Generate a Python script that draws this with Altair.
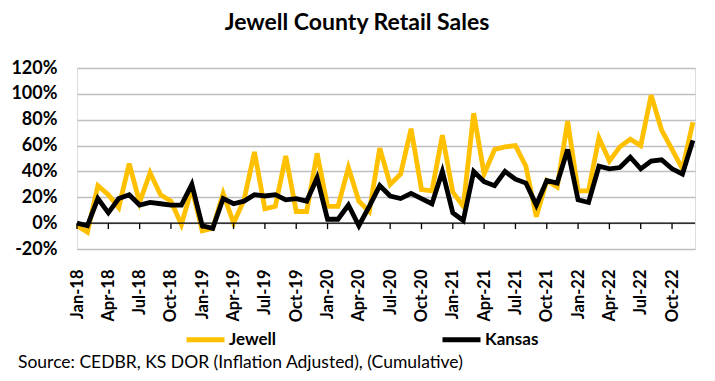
import json
import altair as alt
import pandas as pd

months = [f"{m}-{y}" for y in ["18", "19", "20", "21", "22"]
          for m in ["Jan", "Feb", "Mar", "Apr", "May", "Jun", "Jul", "Aug", "Sep", "Oct", "Nov", "Dec"]]

jewell = [-2, -7, 29, 22, 12, 46, 16, 39, 22, 17, -1, 27,
          -6, -4, 23, 0, 18, 55, 11, 13, 52, 9, 9, 54,
          13, 13, 43, 17, 9, 58, 30, 38, 73, 26, 25, 68,
          24, 13, 85, 38, 57, 59, 60, 44, 5, 33, 28, 79,
          25, 25, 66, 48, 59, 65, 60, 99, 72, 57, 42, 78]
kansas = [0, -2, 19, 8, 19, 22, 14, 16, 15, 14, 14, 30,
          -2, -4, 19, 15, 17, 22, 21, 22, 18, 19, 17, 35,
          3, 3, 14, -2, 13, 29, 21, 19, 23, 19, 15, 40,
          8, 2, 40, 32, 29, 40, 34, 31, 14, 33, 31, 57,
          18, 16, 44, 42, 43, 51, 42, 48, 49, 42, 38, 64]

tick_labels = ["Jan-18", "Apr-18", "Jul-18", "Oct-18", "Jan-19", "Apr-19", "Jul-19", "Oct-19",
               "Jan-20", "Apr-20", "Jul-20", "Oct-20", "Jan-21", "Apr-21", "Jul-21", "Oct-21",
               "Jan-22", "Apr-22", "Jul-22", "Oct-22"]
y_ticks = [-20, 0, 20, 40, 60, 80, 100, 120]

title = "Jewell County Retail Sales"
source = "Source: CEDBR, KS DOR (Inflation Adjusted), (Cumulative)"

FONT = "Lato"

rows = []
for name, vals in [("Jewell", jewell), ("Kansas", kansas)]:
    for i, v in enumerate(vals):
        rows.append({"idx": i, "month": months[i], "series": name, "value": v})
df = pd.DataFrame(rows)

tick_pos = [i * 3 for i in range(len(tick_labels))]
ticks_df = pd.DataFrame({"idx": tick_pos})

xscale = alt.Scale(domain=[0, 59.2], nice=False, zero=False)
yscale = alt.Scale(domain=[-20, 120], nice=False)

lines = alt.Chart(df).mark_line(strokeWidth=4.8, strokeJoin="miter").encode(
    x=alt.X("idx:Q", scale=xscale,
            axis=alt.Axis(values=tick_pos, title=None, grid=False, domain=False, ticks=False,
                          labelAngle=-90, labelFont=FONT, labelFontWeight="bold", labelFontSize=16.5,
                          labelColor="#000", labelPadding=20, labelOverlap=False, labelBound=False,
                          labelFlush=False,
                          labelExpr=f"{json.dumps(tick_labels)}[round(datum.value/3)]")),
    y=alt.Y("value:Q", scale=yscale,
            axis=alt.Axis(values=y_ticks, title=None, domain=False, ticks=False,
                          labelFont=FONT, labelFontWeight="bold", labelFontSize=18, labelColor="#000",
                          labelPadding=20, labelOverlap=False, labelBound=False, labelFlush=False,
                          gridColor="#bfbfbf", gridWidth=1.6,
                          labelExpr="datum.value + '%'")),
    color=alt.Color("series:N", scale=alt.Scale(domain=["Jewell", "Kansas"], range=["#FFC000", "#000000"]),
                    legend=alt.Legend(title=None, orient="none", direction="horizontal",
                                      legendX=107, legendY=250, symbolType="stroke",
                                      symbolSize=1444, symbolStrokeWidth=5, labelFont=FONT,
                                      labelFontWeight="bold", labelFontSize=17, labelColor="#000",
                                      labelOffset=2, columnPadding=155, padding=0)),
    order=alt.Order("idx:Q"),
)

zero_line = alt.Chart(pd.DataFrame({"z": [0]})).mark_rule(color="#000", strokeWidth=1.3).encode(
    y=alt.Y("z:Q", scale=yscale, axis=None)
)

tick_marks = alt.Chart(ticks_df).mark_rule(color="#000", strokeWidth=1.3).encode(
    x=alt.X("idx:Q", scale=xscale, axis=None),
    y=alt.YDatum(0, axis=None),
    y2=alt.Y2Datum(-4.6),
)

source_text = alt.Chart(pd.DataFrame({"t": [source]})).mark_text(
    align="left", baseline="middle", font=FONT, fontSize=17.5, color="#000"
).encode(x=alt.value(-59), y=alt.value(295), text="t:N")

chart = alt.layer(lines, zero_line, tick_marks, source_text).resolve_axis(
    x="independent", y="independent"
).properties(
    width=618, height=181,
    title=alt.TitleParams(title, font=FONT, fontSize=23, fontWeight="bold", color="#000",
                          anchor="middle", dx=-29, offset=24),
    autosize=alt.AutoSizeParams(type="none"),
    padding={"left": 69, "top": 60, "right": 12, "bottom": 124},
).configure_view(stroke=None).configure_axis(labelOverlap=False).configure(background="white")

chart.save("out.html", embed_options={"renderer": "svg", "actions": False})
